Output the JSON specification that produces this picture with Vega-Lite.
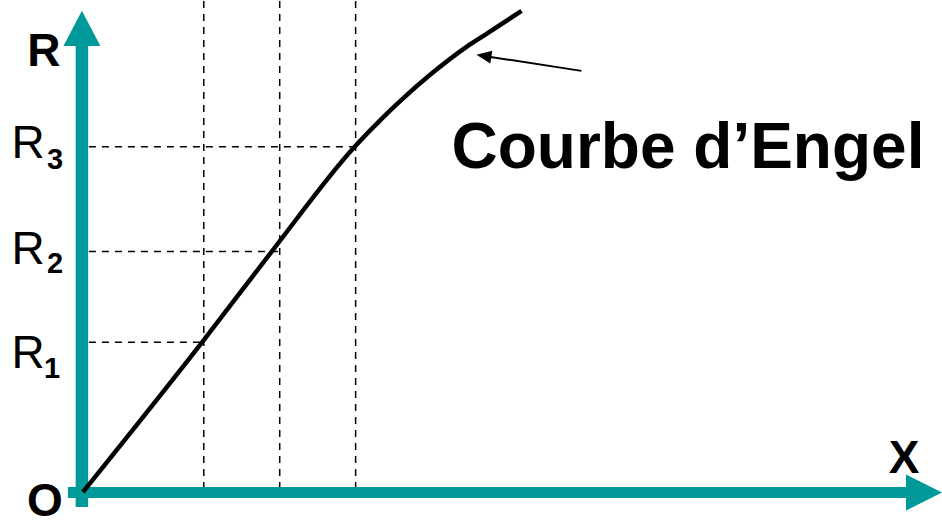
{
  "$schema": "https://vega.github.io/schema/vega-lite/v6.json",
  "width": 942,
  "height": 526,
  "padding": 0,
  "autosize": {"type": "fit", "contains": "padding"},
  "config": {"view": {"stroke": null}},
  "layer": [
    {
      "data": {"values": [
        {"x": 121, "y": 492, "x2": 121, "y2": 0},
        {"x": 197, "y": 492, "x2": 197, "y2": 0},
        {"x": 273, "y": 492, "x2": 273, "y2": 0},
        {"x": 6, "y": 150, "x2": 121, "y2": 150},
        {"x": 6, "y": 241, "x2": 197, "y2": 241},
        {"x": 6, "y": 346, "x2": 273, "y2": 346}
      ]},
      "mark": {"type": "rule", "color": "#000000", "strokeWidth": 1.5, "strokeDash": [7, 6]},
      "encoding": {
        "x": {"field": "x", "type": "quantitative", "scale": {"domain": [-83, 859], "nice": false, "zero": false}, "axis": null},
        "y": {"field": "y", "type": "quantitative", "scale": {"domain": [-34, 492], "nice": false, "zero": false}, "axis": null},
        "x2": {"field": "x2"},
        "y2": {"field": "y2"}
      }
    },
    {
      "data": {"values": [{"x": -1, "y": -15, "x2": -1, "y2": 448}]},
      "mark": {"type": "rule", "color": "#009999", "strokeWidth": 12.5, "strokeCap": "butt"},
      "encoding": {
        "x": {"field": "x", "type": "quantitative", "scale": {"domain": [-83, 859], "nice": false, "zero": false}, "axis": null},
        "y": {"field": "y", "type": "quantitative", "scale": {"domain": [-34, 492], "nice": false, "zero": false}, "axis": null},
        "x2": {"field": "x2"},
        "y2": {"field": "y2"}
      }
    },
    {
      "data": {"values": [{"x": -15, "y": -0.5, "x2": 826, "y2": -0.5}]},
      "mark": {"type": "rule", "color": "#009999", "strokeWidth": 11, "strokeCap": "butt"},
      "encoding": {
        "x": {"field": "x", "type": "quantitative", "scale": {"domain": [-83, 859], "nice": false, "zero": false}, "axis": null},
        "y": {"field": "y", "type": "quantitative", "scale": {"domain": [-34, 492], "nice": false, "zero": false}, "axis": null},
        "x2": {"field": "x2"},
        "y2": {"field": "y2"}
      }
    },
    {
      "data": {"values": [{"x": -1, "y": 464.5}]},
      "mark": {"type": "point", "filled": true, "opacity": 1, "color": "#009999", "strokeWidth": 0, "shape": "M0,-0.95L-1,0.95L1,0.95Z", "size": 1369},
      "encoding": {
        "x": {"field": "x", "type": "quantitative", "scale": {"domain": [-83, 859], "nice": false, "zero": false}, "axis": null},
        "y": {"field": "y", "type": "quantitative", "scale": {"domain": [-34, 492], "nice": false, "zero": false}, "axis": null}
      }
    },
    {
      "data": {"values": [{"x": 842, "y": -0.5}]},
      "mark": {"type": "point", "filled": true, "opacity": 1, "color": "#009999", "strokeWidth": 0, "shape": "M1,0L-1,-1L-1,1Z", "size": 1296},
      "encoding": {
        "x": {"field": "x", "type": "quantitative", "scale": {"domain": [-83, 859], "nice": false, "zero": false}, "axis": null},
        "y": {"field": "y", "type": "quantitative", "scale": {"domain": [-34, 492], "nice": false, "zero": false}, "axis": null}
      }
    },
    {
      "data": {"values": [
        {"x": 0, "y": 0},
        {"x": 120, "y": 151},
        {"x": 189, "y": 241},
        {"x": 272, "y": 346},
        {"x": 300, "y": 375},
        {"x": 320, "y": 394},
        {"x": 350, "y": 420},
        {"x": 384, "y": 446},
        {"x": 404, "y": 459},
        {"x": 439, "y": 482}
      ]},
      "mark": {"type": "line", "color": "#000000", "strokeWidth": 4.5, "interpolate": "monotone", "strokeCap": "butt"},
      "encoding": {
        "x": {"field": "x", "type": "quantitative", "scale": {"domain": [-83, 859], "nice": false, "zero": false}, "axis": null},
        "y": {"field": "y", "type": "quantitative", "scale": {"domain": [-34, 492], "nice": false, "zero": false}, "axis": null}
      }
    },
    {
      "data": {"values": [{"x": 499, "y": 422, "x2": 408, "y2": 436}]},
      "mark": {"type": "rule", "color": "#000000", "strokeWidth": 2},
      "encoding": {
        "x": {"field": "x", "type": "quantitative", "scale": {"domain": [-83, 859], "nice": false, "zero": false}, "axis": null},
        "y": {"field": "y", "type": "quantitative", "scale": {"domain": [-34, 492], "nice": false, "zero": false}, "axis": null},
        "x2": {"field": "x2"},
        "y2": {"field": "y2"}
      }
    },
    {
      "data": {"values": [{"x": 401.4, "y": 436.9}]},
      "mark": {"type": "point", "filled": true, "opacity": 1, "color": "#000000", "strokeWidth": 0, "shape": "M-1,0L1,-0.87L1,0.87Z", "size": 225, "angle": 8.7},
      "encoding": {
        "x": {"field": "x", "type": "quantitative", "scale": {"domain": [-83, 859], "nice": false, "zero": false}, "axis": null},
        "y": {"field": "y", "type": "quantitative", "scale": {"domain": [-34, 492], "nice": false, "zero": false}, "axis": null}
      }
    },
    {
      "data": {"values": [
        {"x": -39, "y": 427, "label": "R"},
        {"x": -38, "y": -24, "label": "O"},
        {"x": 822, "y": 19, "label": "X"}
      ]},
      "mark": {"type": "text", "font": "Liberation Sans", "fontWeight": "bold", "fontSize": 46, "align": "center", "baseline": "alphabetic", "color": "#000000"},
      "encoding": {
        "x": {"field": "x", "type": "quantitative", "scale": {"domain": [-83, 859], "nice": false, "zero": false}, "axis": null},
        "y": {"field": "y", "type": "quantitative", "scale": {"domain": [-34, 492], "nice": false, "zero": false}, "axis": null},
        "text": {"field": "label"}
      }
    },
    {
      "data": {"values": [
        {"x": -71.5, "y": 335, "label": "R"},
        {"x": -71.5, "y": 229, "label": "R"},
        {"x": -71.5, "y": 124, "label": "R"}
      ]},
      "mark": {"type": "text", "font": "Liberation Sans", "fontSize": 46, "align": "left", "baseline": "alphabetic", "color": "#000000"},
      "encoding": {
        "x": {"field": "x", "type": "quantitative", "scale": {"domain": [-83, 859], "nice": false, "zero": false}, "axis": null},
        "y": {"field": "y", "type": "quantitative", "scale": {"domain": [-34, 492], "nice": false, "zero": false}, "axis": null},
        "text": {"field": "label"}
      }
    },
    {
      "data": {"values": [
        {"x": -28, "y": 324, "label": "3"},
        {"x": -28, "y": 219, "label": "2"},
        {"x": -31, "y": 114, "label": "1"}
      ]},
      "mark": {"type": "text", "font": "Liberation Sans", "fontWeight": "bold", "fontSize": 29, "align": "center", "baseline": "alphabetic", "color": "#000000"},
      "encoding": {
        "x": {"field": "x", "type": "quantitative", "scale": {"domain": [-83, 859], "nice": false, "zero": false}, "axis": null},
        "y": {"field": "y", "type": "quantitative", "scale": {"domain": [-34, 492], "nice": false, "zero": false}, "axis": null},
        "text": {"field": "label"}
      }
    },
    {
      "data": {"values": [{"x": 369, "y": 325, "label": "Courbe d’Engel"}]},
      "mark": {"type": "text", "font": "Liberation Sans", "fontWeight": "bold", "fontSize": 64, "align": "left", "baseline": "alphabetic", "color": "#000000"},
      "encoding": {
        "x": {"field": "x", "type": "quantitative", "scale": {"domain": [-83, 859], "nice": false, "zero": false}, "axis": null},
        "y": {"field": "y", "type": "quantitative", "scale": {"domain": [-34, 492], "nice": false, "zero": false}, "axis": null},
        "text": {"field": "label"}
      }
    }
  ]
}
